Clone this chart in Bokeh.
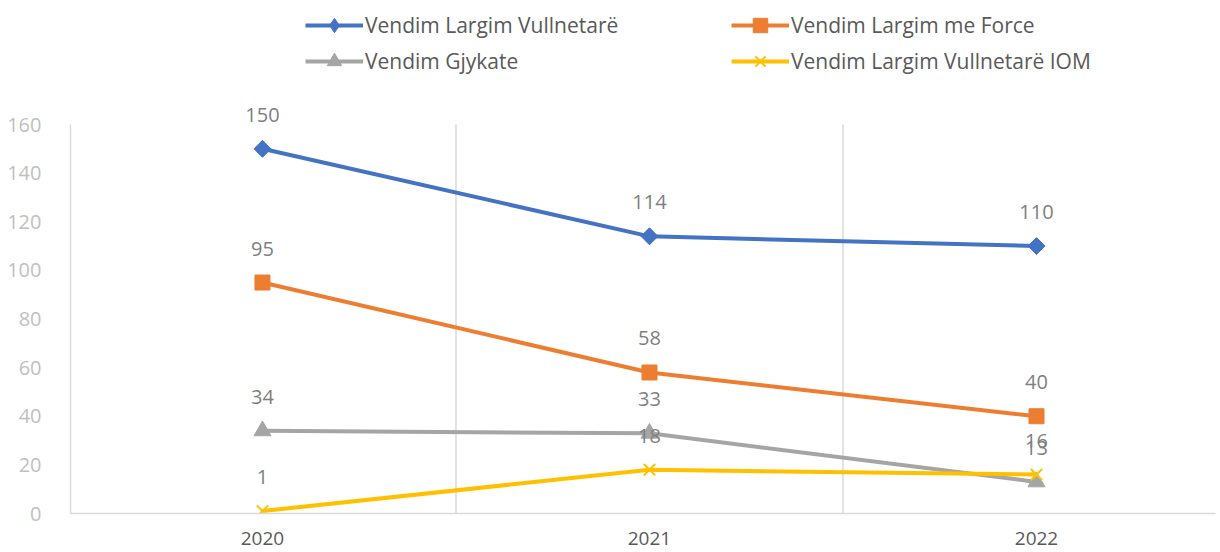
import math
from bokeh.plotting import figure
from bokeh.models import Range1d, FixedTicker, Legend, LegendItem, ColumnDataSource, LabelSet
from bokeh.core.properties import value
from bokeh.embed import file_html
from bokeh.resources import INLINE

# ---- data ----
years = ["2020", "2021", "2022"]
vullnetare = [150, 114, 110]
force = [95, 58, 40]
gjykate = [34, 33, 13]
iom = [1, 18, 16]
y_ticks = [0, 20, 40, 60, 80, 100, 120, 140, 160]
series_names = ["Vendim Largim Vullnetarë", "Vendim Largim me Force",
                "Vendim Gjykate", "Vendim Largim Vullnetarë IOM"]

xs = list(range(len(years)))
FONT = "Open Sans"

W, H = 1216, 550
BOTTOM = 37
Y_MAX = y_ticks[-1]
# frame spans the full height above the x axis; value 160 sits 389px above the axis
y_end = Y_MAX * (H - BOTTOM) / 389.0

p = figure(width=W, height=H, output_backend="svg", toolbar_location=None,
           x_range=Range1d(-0.496, 2.4625), y_range=Range1d(0, y_end),
           min_border_left=70, min_border_right=1, min_border_top=0,
           min_border_bottom=BOTTOM)
p.outline_line_color = None
p.background_fill_color = "white"

# axes
p.xaxis.ticker = FixedTicker(ticks=xs)
p.xaxis.major_label_overrides = {i: y for i, y in enumerate(years)}
p.xaxis.axis_line_color = "#d9d9d9"
p.xaxis.axis_line_width = 1.5
p.xaxis.major_tick_line_color = None
p.xaxis.minor_tick_line_color = None
p.xaxis.major_label_text_font = FONT
p.xaxis.major_label_text_font_size = "19px"
p.xaxis.major_label_text_color = "#595959"
p.xaxis.major_label_standoff = 12

p.yaxis.ticker = FixedTicker(ticks=y_ticks)
p.yaxis.bounds = (0, Y_MAX)
p.yaxis.axis_line_color = "#d9d9d9"
p.yaxis.axis_line_width = 1.5
p.yaxis.major_tick_line_color = None
p.yaxis.minor_tick_line_color = None
p.yaxis.major_label_text_font = FONT
p.yaxis.major_label_text_font_size = "20px"
p.yaxis.major_label_text_color = "#bfbfbf"
p.yaxis.major_label_standoff = 23

# category separator lines (vertical gridlines between categories), 0..160 only
p.xgrid.visible = False
p.ygrid.visible = False
seps = [x + 0.5 for x in xs[:-1]]
p.segment(x0=seps, y0=[0] * len(seps), x1=seps, y1=[Y_MAX] * len(seps),
          line_color="#d9d9d9", line_width=1.5, level="underlay")

series = [
    (vullnetare, "#4472C4", dict(marker="square", angle=math.pi / 4, size=12), "diamond"),
    (force, "#ED7D31", dict(marker="square", size=15), None),
    (gjykate, "#A5A5A5", dict(marker="triangle", size=17), None),
    (iom, "#FFC000", dict(marker="x", size=16, line_width=2), None),
]

items = []
for (vals, color, mk, legend_marker), name in zip(series, series_names):
    src = ColumnDataSource(dict(x=xs, y=vals, lab=[str(v) for v in vals]))
    lr = p.line("x", "y", source=src, line_color=color, line_width=4)
    lm = None
    if legend_marker:
        # diamond used for the legend swatch; it sits fully under the rotated square
        lm = p.scatter("x", "y", source=src, marker=legend_marker, size=16, color=color)
    sr = p.scatter("x", "y", source=src, color=color, **mk)
    labels = LabelSet(x="x", y="y", text="lab", source=src, y_offset=34,
                      text_align="center", text_baseline="middle",
                      text_font=value(FONT), text_font_size=value("20px"),
                      text_color=value("#7f7f7f"))
    p.add_layout(labels)
    items.append(LegendItem(label=name, renderers=[lr, lm if lm is not None else sr]))

legend = Legend(items=items, location=(235, 434), orientation="horizontal", ncols=2,
                glyph_width=58, glyph_height=36, label_height=36, label_width=366,
                label_standoff=2, spacing=0, padding=0, margin=0,
                label_text_font=FONT, label_text_font_size="21px",
                label_text_color="#595959",
                background_fill_alpha=0, border_line_alpha=0)
p.add_layout(legend, "center")

open("out.html", "w").write(file_html(p, INLINE))
